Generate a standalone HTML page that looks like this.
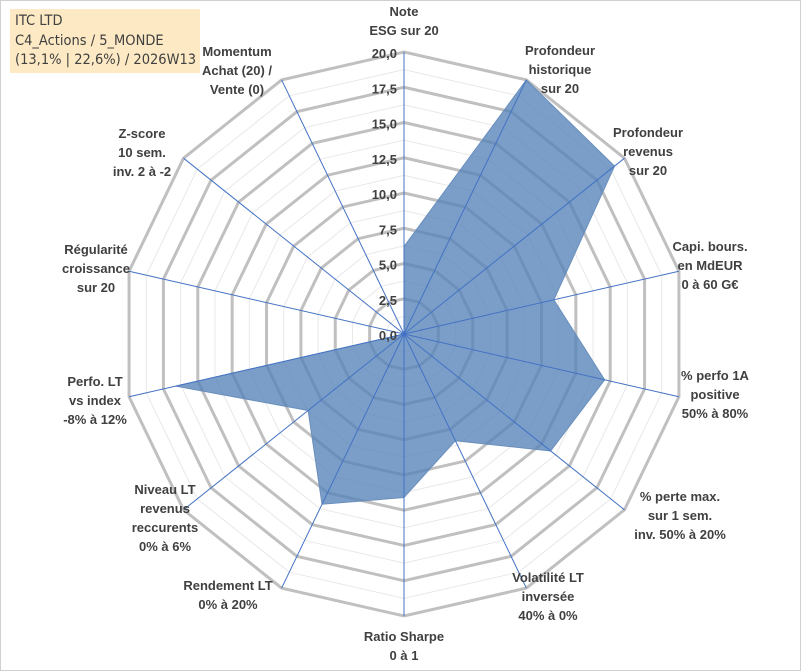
<!DOCTYPE html>
<html><head><meta charset="utf-8"><style>
body{margin:0;background:#fff;}
#wrap{position:relative;width:801px;height:671px;overflow:hidden;font-family:"Liberation Sans",Arial,sans-serif;}
svg text{font-family:"Liberation Sans",Arial,sans-serif;font-weight:bold;fill:#404040;font-size:13px;}
#title{position:absolute;left:10px;top:9px;width:190px;height:64px;background:#fdeac5;color:#404040;font-size:14.5px;line-height:19.5px;padding:3px 0 0 5px;box-sizing:border-box;white-space:nowrap;font-family:"DejaVu Sans Condensed","Liberation Sans Narrow","Liberation Sans",sans-serif;}
</style></head><body>
<div id="wrap">
<svg id="chart" width="801" height="671">
<rect x="0.5" y="0.5" width="800" height="670" fill="#fff" stroke="#d0d0d0"/>
</svg>
<div id="title">ITC LTD<br>C4_Actions / 5_MONDE<br>(13,1% | 22,6%) / 2026W13</div>
</div>
<script>
const categories=[["Note","ESG sur 20"],["Profondeur","historique","sur 20"],["Profondeur","revenus","sur 20"],["Capi. bours.","en MdEUR","0 à 60 G€"],["% perfo 1A","positive","50% à 80%"],["% perte max.","sur 1 sem.","inv. 50% à 20%"],["Volatilité LT","inversée","40% à 0%"],["Ratio Sharpe","0 à 1"],["Rendement LT","0% à 20%"],["Niveau LT","revenus","reccurents","0% à 6%"],["Perfo. LT","vs index","-8% à 12%"],["Régularité","croissance","sur 20"],["Z-score","10 sem.","inv. 2 à -2"],["Momentum","Achat (20) /","Vente (0)"]];
const values=[6.2,20,19.1,10.9,14.6,13.3,8.4,11.6,13.4,8.7,16.6,0,0,0];
const tickLabels=["0,0","2,5","5,0","7,5","10,0","12,5","15,0","17,5","20,0"];
const maxVal=20;
const cx=404,cy=334,R=282;
const labelPos=[[404,16],[560,55],[648,137],[710,251],[715,380],[680,501],[548,582],[404,641],[228,590],[165,494],[95,386],[96,254],[142,138],[237,56]];
const svg=document.getElementById('chart');
const NS='http://www.w3.org/2000/svg';
const N=categories.length;
function ang(i){return i*2*Math.PI/N;}
function pt(i,v){const r=v/maxVal*R;return [cx+r*Math.sin(ang(i)),cy-r*Math.cos(ang(i))];}
function mk(t,a){const e=document.createElementNS(NS,t);for(const k in a)e.setAttribute(k,a[k]);svg.appendChild(e);return e;}
for(let k=1;k<=16;k++){const v=k*1.25;const p=[];for(let i=0;i<N;i++)p.push(pt(i,v).join(','));
const major=k%2===0;
const g=mk('polygon',{points:p.join(' '),fill:'none',stroke:major?'#c0c0c0':'#e8e8e8','stroke-width':major?3:1});

}
const sp=values.map((v,i)=>pt(i,v).join(',')).join(' ');
const s=mk('polygon',{points:sp,fill:'#5583b8','fill-opacity':0.78,stroke:'#6a8fbd','stroke-width':1});


for(let i=0;i<N;i++){const e=pt(i,maxVal);const l=mk('line',{x1:cx,y1:cy,x2:e[0],y2:e[1],stroke:'#4472c4','stroke-width':1});

}
tickLabels.forEach((t,k)=>{const y=cy-(k*2.5/maxVal)*R;const e=mk('text',{x:cx-7,y:y+6,'text-anchor':'end','font-size':'15'});e.textContent=t;

});
categories.forEach((lines,i)=>{const [x,y]=labelPos[i];const t=mk('text',{x:x,y:y,'text-anchor':'middle'});


lines.forEach((ln,j)=>{const ts=document.createElementNS(NS,'tspan');ts.setAttribute('x',x);ts.setAttribute('dy',j===0?0:19);ts.textContent=ln;t.appendChild(ts);});});
</script>
</body></html>
